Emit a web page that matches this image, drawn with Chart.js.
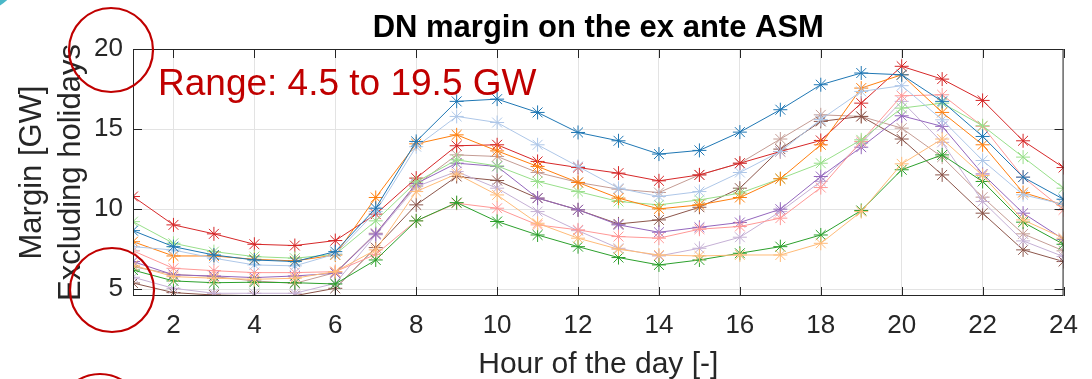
<!DOCTYPE html>
<html>
<head>
<meta charset="utf-8">
<script src="https://cdn.jsdelivr.net/npm/chart.js@4.4.1/dist/chart.umd.min.js"></script>
<style>
  body { margin: 0; background: #fff; }
  #wrap { width: 1092px; height: 379px; }
</style>
</head>
<body>
<div id="wrap"><canvas id="marginChart" width="1092" height="379"></canvas></div>
<script>
// hours and tick values
const hours = [1, 2, 3, 4, 5, 6, 7, 8, 9, 10, 11, 12, 13, 14, 15, 16, 17, 18, 19, 20, 21, 22, 23, 24];
const xTicks = [2, 4, 6, 8, 10, 12, 14, 16, 18, 20, 22, 24];
const yTicks = [5, 10, 15, 20];

// margin [GW] per series
const blue = [8.66, 7.66, 7.14, 6.83, 6.73, 7.35, 10.06, 14.23, 16.73, 16.87, 16.04, 14.79, 14.27, 13.44, 13.67, 14.81, 16.21, 17.77, 18.5, 18.39, 16.73, 14.54, 12.0, 10.62];
const lightBlue = [7.66, 7.45, 6.94, 6.52, 6.46, 7.2, 9.85, 13.9, 15.79, 15.41, 14.02, 12.67, 11.31, 10.79, 11.1, 12.29, 13.6, 15.6, 17.35, 17.71, 15.58, 13.04, 10.9, 10.3];
const orange = [7.97, 7.08, 7.08, 6.87, 6.77, 7.14, 10.73, 14.08, 14.64, 13.64, 12.67, 11.67, 10.69, 10.02, 10.27, 10.73, 11.9, 14.02, 17.56, 18.39, 16.04, 14.02, 11.04, 10.27];
const lightOrange = [6.5, 5.79, 5.69, 5.62, 5.69, 6.1, 7.46, 11.1, 12.2, 10.89, 9.12, 8.19, 7.5, 7.14, 7.08, 7.14, 7.14, 7.87, 9.85, 12.83, 14.38, 12.1, 9.33, 8.19];
const green = [6.2, 5.52, 5.41, 5.44, 5.41, 5.33, 6.83, 9.27, 10.41, 9.23, 8.39, 7.66, 6.98, 6.52, 6.83, 7.25, 7.66, 8.39, 9.92, 12.46, 13.39, 11.73, 9.19, 7.81];
const lightGreen = [9.22, 7.87, 7.35, 7.04, 6.94, 7.18, 9.27, 11.7, 13.08, 12.7, 11.73, 11.1, 10.48, 10.27, 10.58, 11.0, 11.9, 12.87, 14.33, 16.31, 16.62, 15.21, 13.25, 11.31];
const red = [10.79, 9.02, 8.46, 7.81, 7.73, 8.04, 9.69, 11.94, 13.96, 14.02, 12.98, 12.6, 12.25, 11.77, 12.14, 12.87, 13.6, 14.29, 16.62, 18.92, 18.12, 16.79, 14.27, 12.6];
const lightRed = [7.4, 6.31, 6.16, 6.04, 6.04, 6.1, 7.18, 9.27, 10.37, 10.06, 9.02, 8.71, 8.29, 8.19, 8.75, 8.92, 9.44, 11.35, 14.23, 17.08, 17.14, 15.17, 12.0, 9.96];
const purple = [6.73, 5.9, 5.83, 5.73, 5.83, 6.0, 8.45, 11.6, 12.87, 12.67, 10.69, 9.96, 9.02, 8.56, 8.87, 9.17, 10.0, 12.04, 13.87, 15.83, 15.17, 12.2, 9.75, 8.12];
const lightPurple = [5.75, 5.06, 4.75, 4.75, 4.75, 5.37, 8.4, 11.41, 12.35, 11.31, 9.85, 8.66, 7.56, 7.08, 7.56, 8.25, 9.85, 11.73, 14.12, 16.73, 14.17, 10.48, 8.02, 7.04];
const brown = [5.39, 4.79, 4.64, 4.6, 4.6, 5.06, 7.6, 10.27, 12.04, 11.79, 10.69, 9.96, 9.08, 9.33, 10.12, 11.31, 13.75, 15.48, 15.79, 14.38, 12.14, 9.75, 7.46, 6.73];
const lightBrown = [6.41, 5.93, 5.79, 5.52, 5.37, 6.04, 8.5, 11.5, 13.39, 13.29, 12.29, 11.67, 11.25, 11.04, 12.14, 12.87, 14.38, 15.89, 15.79, 15.06, 13.25, 10.75, 8.46, 7.4];

const seriesList = [blue, lightBlue, orange, lightOrange, green, lightGreen, red, lightRed, purple, lightPurple, brown, lightBrown];
const seriesColors = ['#1f77b4', '#aec7e8', '#ff7f0e', '#ffbb78', '#2ca02c', '#98df8a',
                      '#d62728', '#ff9896', '#9467bd', '#c5b0d5', '#8c564b', '#c49c94'];

const FONT = '"Liberation Sans", Arial, sans-serif';
const AXIS_COLOR = '#262626';
const NOTE_RED = '#c00000';

const datasets = seriesList.map((vals, i) => ({
    data: hours.map((h, j) => ({ x: h, y: vals[j] })),
    borderColor: seriesColors[i],
    backgroundColor: seriesColors[i],
    borderWidth: 1,
    pointStyle: 'star',
    pointRadius: 7,
    pointBorderWidth: 1,
    pointHoverRadius: 7,
    tension: 0
}));

// box, inward ticks on all four sides, plus the red notes
const boxAndNotes = {
    id: 'boxAndNotes',
    afterDatasetsDraw(chart) {
        const { ctx, chartArea: a, scales } = chart;
        ctx.save();
        ctx.strokeStyle = AXIS_COLOR;
        ctx.lineWidth = 1;
        ctx.strokeRect(a.left + 0.5, a.top + 0.5, a.right - a.left - 1, a.bottom - a.top - 1);
        ctx.beginPath();
        xTicks.forEach(v => {
            const x = Math.round(scales.x.getPixelForValue(v)) + 0.5;
            ctx.moveTo(x, a.bottom); ctx.lineTo(x, a.bottom - 9);
            ctx.moveTo(x, a.top); ctx.lineTo(x, a.top + 9);
        });
        yTicks.forEach(v => {
            const y = Math.round(scales.y.getPixelForValue(v)) + 0.5;
            ctx.moveTo(a.left, y); ctx.lineTo(a.left + 9, y);
            ctx.moveTo(a.right, y); ctx.lineTo(a.right - 9, y);
        });
        ctx.stroke();

        // annotation text
        ctx.fillStyle = NOTE_RED;
        ctx.font = '37px ' + FONT;
        ctx.textBaseline = 'alphabetic';
        ctx.textAlign = 'left';
        ctx.fillText('Range: 4.5 to 19.5 GW', 158, 95);

        // circles
        ctx.strokeStyle = NOTE_RED;
        ctx.lineWidth = 2.2;
        [[111, 50], [112, 290], [100, 416]].forEach(([cx, cy]) => {
            ctx.beginPath();
            ctx.arc(cx, cy, 42, 0, Math.PI * 2);
            ctx.stroke();
        });

        // little teal corner mark
        ctx.strokeStyle = '#4bb8c8';
        ctx.lineWidth = 5;
        ctx.beginPath();
        ctx.arc(-30, -40, 52, 0.35, 1.1);
        ctx.stroke();
        ctx.restore();
    }
};

new Chart(document.getElementById('marginChart'), {
    type: 'line',
    data: { datasets: datasets },
    options: {
        responsive: false,
        animation: false,
        devicePixelRatio: 1,
        layout: { padding: { top: 49, right: 19, left: 0, bottom: 0 } },
        plugins: {
            legend: { display: false },
            tooltip: { enabled: false },
            title: { display: false }
        },
        scales: {
            x: {
                type: 'linear',
                min: 1,
                max: 24,
                afterBuildTicks: axis => { axis.ticks = xTicks.map(v => ({ value: v })); },
                afterFit: axis => { axis.height = 83; },
                grid: { color: '#e3e3e3', drawTicks: false },
                border: { display: false },
                ticks: {
                    color: AXIS_COLOR,
                    padding: 14,
                    font: { family: FONT, size: 26 },
                    maxRotation: 0
                },
                title: {
                    display: true,
                    text: 'Hour of the day [-]',
                    color: AXIS_COLOR,
                    font: { family: FONT, size: 30 },
                    padding: { top: 0, bottom: -4 }
                }
            },
            y: {
                min: 4.58,
                max: 20,
                afterBuildTicks: axis => { axis.ticks = yTicks.map(v => ({ value: v })); },
                afterFit: axis => { axis.width = 133; },
                grid: { color: '#e3e3e3', drawTicks: false },
                border: { display: false },
                ticks: {
                    color: AXIS_COLOR,
                    padding: 10,
                    font: { family: FONT, size: 26 }
                },
                title: {
                    display: true,
                    text: ['Margin [GW]', 'Excluding holidays'],
                    color: AXIS_COLOR,
                    font: { family: FONT, size: 31, lineHeight: 1.25 },
                    padding: { top: 13, bottom: 0 }
                }
            }
        }
    },
    plugins: [boxAndNotes, {
        id: 'chartTitle',
        afterDraw(chart) {
            const { ctx, chartArea: a } = chart;
            ctx.save();
            ctx.fillStyle = '#000';
            ctx.font = 'bold 31px ' + FONT;
            ctx.textAlign = 'center';
            ctx.textBaseline = 'middle';
            ctx.fillText('DN margin on the ex ante ASM', (a.left + a.right) / 2, 28);
            ctx.restore();
        }
    }]
});
</script>
</body>
</html>
